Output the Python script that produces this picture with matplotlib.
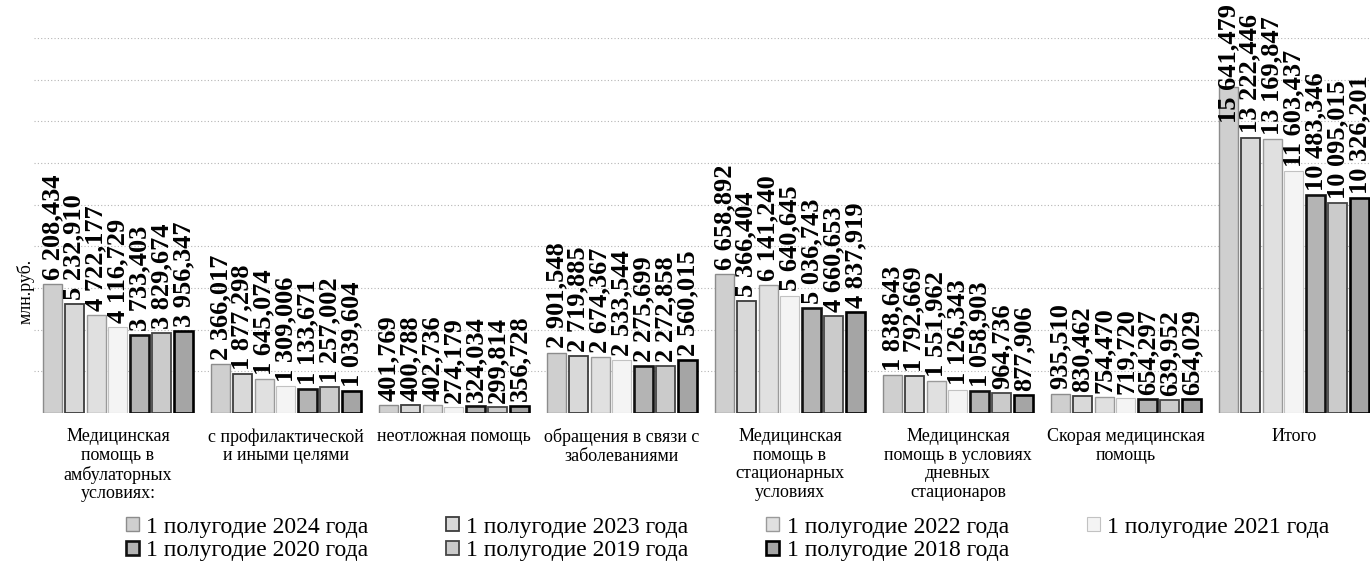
import numpy as np
import matplotlib
matplotlib.use("Agg")
from matplotlib import pyplot as plt

plt.rcParams['font.family'] = ['Liberation Serif', 'DejaVu Serif']

# categories (x axis)
categories = ["Медицинская\nпомощь в\nамбулаторных\nусловиях:",
              "с профилактической\nи иными целями",
              "неотложная помощь",
              "обращения в связи с\nзаболеваниями",
              "Медицинская\nпомощь в\nстационарных\nусловиях",
              "Медицинская\nпомощь в условиях\nдневных\nстационаров",
              "Скорая медицинская\nпомощь",
              "Итого"]

years = ["1 полугодие 2024 года", "1 полугодие 2023 года",
         "1 полугодие 2022 года", "1 полугодие 2021 года",
         "1 полугодие 2020 года", "1 полугодие 2019 года",
         "1 полугодие 2018 года"]

# values by category, млн.руб.; order 2024 ... 2018
amb = [6208.434, 5232.910, 4722.177, 4116.729, 3733.403, 3829.674, 3956.347]
prof = [2366.017, 1877.298, 1645.074, 1309.006, 1133.671, 1257.002, 1039.604]
neotl = [401.769, 400.788, 402.736, 274.179, 324.034, 299.814, 356.728]
obr = [2901.548, 2719.885, 2674.367, 2533.544, 2275.699, 2272.858, 2560.015]
stac = [6658.892, 5366.404, 6141.240, 5640.645, 5036.743, 4660.653, 4837.919]
dnev = [1838.643, 1792.669, 1551.962, 1126.343, 1058.903, 964.736, 877.906]
skor = [935.510, 830.462, 754.470, 719.720, 654.297, 639.952, 654.029]
itogo = [15641.479, 13222.446, 13169.847, 11603.437, 10483.346, 10095.015, 10326.201]

data = np.array([amb, prof, neotl, obr, stac, dnev, skor, itogo])  # (cat, year)

# look of each series (scan-like greys)
faces = ['#cfcfcf', '#d9d9d9', '#e0e0e0', '#f4f4f4', '#b4b4b4', '#cbcbcb', '#a5a5a5']
edges = ['#8c8c8c', '#3c3c3c', '#9a9a9a', '#c2c2c2', '#111111', '#454545', '#000000']
widths = [1.0, 1.3, 1.0, 0.8, 1.9, 1.3, 1.9]


def fmt(v):
    return f"{v:,.3f}".replace(",", " ").replace(".", ",")


fig = plt.figure(figsize=(13.7, 5.69), dpi=100)
ax = fig.add_axes([0.0248, 0.274, 0.981, 0.659])

x = np.arange(len(categories))
step = 0.13
bw = 0.113
bars = []
labels = []
for i in range(len(years)):
    pos = x + (i - 3) * step
    b = ax.bar(pos, data[:, i], width=bw, color=faces[i], edgecolor=edges[i],
               linewidth=widths[i], label=years[i], zorder=3)
    bars.append(b)
    for xp, v in zip(pos, data[:, i]):
        t = ax.annotate(fmt(v), (xp, v), xytext=(0, 3), textcoords='offset points',
                        rotation=90, ha='center', va='bottom', fontsize=19,
                        fontweight='bold', zorder=4, annotation_clip=False)
        labels.append(t)

ax.set_xlim(-0.5, len(categories) - 0.5)
ax.set_ylim(0, 18000)
ax.set_yticks(np.arange(2000, 18001, 2000))
ax.yaxis.grid(True, color='#b5b5b5', linestyle=(0, (1, 2)), linewidth=0.8)
ax.set_axisbelow(True)
ax.tick_params(axis='y', length=0, labelleft=False)
ax.set_xticks(x)
ax.set_xticklabels(categories, fontsize=13, linespacing=1.12)
ax.tick_params(axis='x', length=0, pad=11)
for s in ax.spines.values():
    s.set_visible(False)

fig.text(0.019, 0.487, "млн.руб.", rotation=90, ha='center', va='center', fontsize=13)

# keep value labels inside the picture
fig.canvas.draw()
renderer = fig.canvas.get_renderer()
fig_h = fig.bbox.height
for t in labels:
    bb = t.get_window_extent(renderer)
    if bb.y1 > fig_h - 4:
        shift = (bb.y1 - (fig_h - 4)) * 72 / fig.dpi
        t.xyann = (0, 3 - shift)

order = [0, 4, 1, 5, 2, 6, 3]
fig.legend([bars[k] for k in order], [years[k] for k in order], ncol=4,
           loc='lower left', bbox_to_anchor=(126 / 1370, 0.014), frameon=False,
           fontsize=17, handlelength=0.55, handleheight=0.55, handletextpad=0.3,
           columnspacing=3.3, labelspacing=0.1, borderpad=0, borderaxespad=0)

fig.savefig("out.png", dpi=100)
